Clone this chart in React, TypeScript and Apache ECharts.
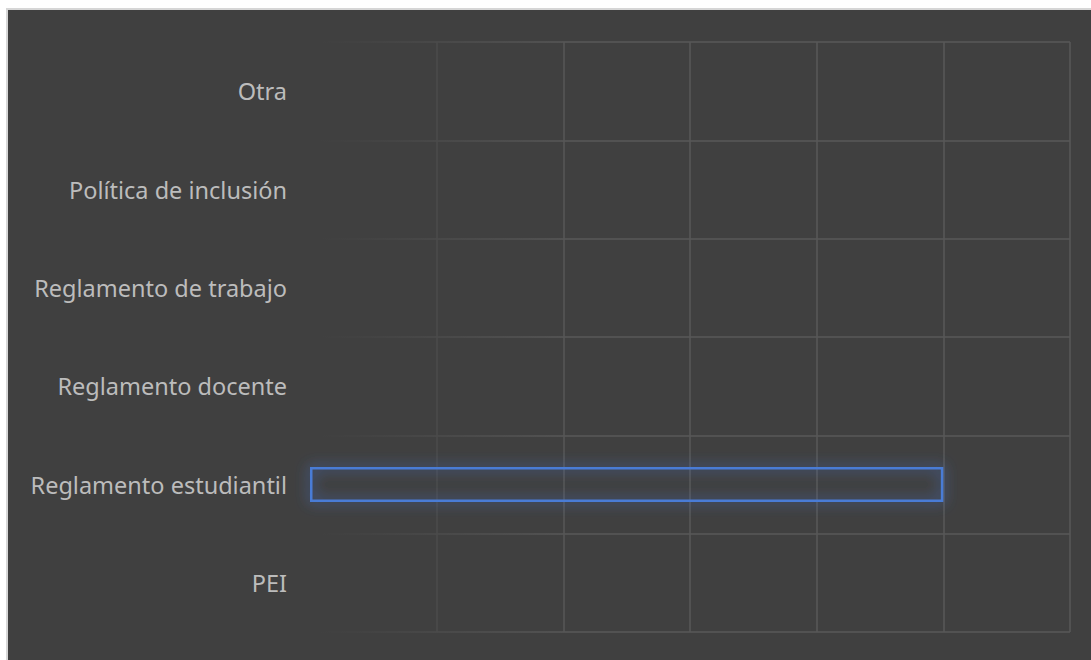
import React, { useEffect, useRef } from "react";
import * as echarts from "echarts";

const categories = [
  "PEI",
  "Reglamento estudiantil",
  "Reglamento docente",
  "Reglamento de trabajo",
  "Política de inclusión",
  "Otra",
];
const values = [0, 5, 0, 0, 0, 0];
const xMin = 0;
const xMax = 6;
const xInterval = 1;

export default function App() {
  const ref = useRef<HTMLDivElement>(null);
  useEffect(() => {
    if (!ref.current) return;
    const chart = echarts.init(ref.current, undefined, { renderer: "svg" });
    const gridColor = new echarts.graphic.LinearGradient(
      310,
      0,
      560,
      0,
      [
        { offset: 0, color: "rgba(88,88,88,0)" },
        { offset: 0.15, color: "rgba(88,88,88,0.12)" },
        { offset: 0.5, color: "rgba(88,88,88,0.5)" },
        { offset: 1, color: "rgba(88,88,88,1)" },
      ],
      true
    );
    chart.setOption({
      animation: false,
      backgroundColor: "#404040",
      grid: { left: 302, right: 21, top: 32, bottom: 28, containLabel: false },
      xAxis: {
        type: "value",
        min: xMin,
        max: xMax,
        interval: xInterval,
        axisLabel: { show: false },
        axisLine: { show: false },
        axisTick: { show: false },
        splitLine: {
          show: true,
          lineStyle: {
            color: [
              "rgba(0,0,0,0)",
              "#4b4b4b",
              "#575757",
              "#585858",
              "#585858",
              "#585858",
              "#585858",
            ],
            width: 1.5,
          },
        },
      },
      yAxis: {
        type: "category",
        data: categories,
        axisLine: { show: false },
        axisTick: { show: false },
        axisLabel: {
          color: "#bcbcbc",
          fontFamily: "Noto Sans",
          fontSize: 23.5,
          margin: 23,
        },
        splitLine: { show: true, lineStyle: { color: gridColor, width: 1.5 } },
      },
      series: [
        {
          type: "bar",
          data: values,
          barWidth: 35,
          itemStyle: {
            color: "rgba(0,0,0,0)",
            borderColor: "#4a7bd6",
            borderWidth: 2.5,
            shadowBlur: 14,
            shadowColor: "rgba(70,120,220,1)",
          },
        },
      ],
    });
    return () => chart.dispose();
  }, []);
  return (
    <div
      style={{
        position: "absolute",
        left: 6,
        top: 8,
        border: "2px solid #d6d6d6",
        borderRight: "none",
        borderBottom: "none",
      }}
    >
      <div ref={ref} style={{ width: 1083, height: 650 }} />
    </div>
  );
}
